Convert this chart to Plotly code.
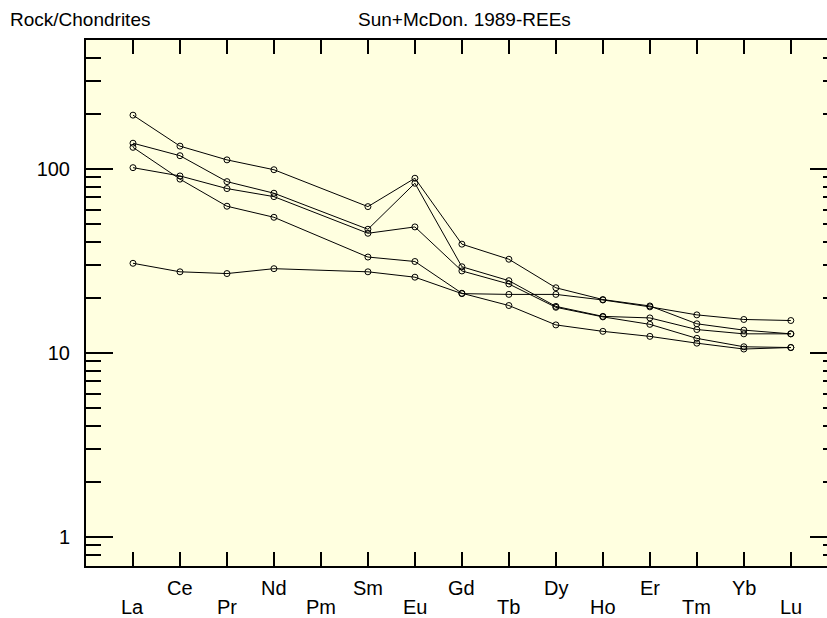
import plotly.graph_objects as go

elements = ["La", "Ce", "Pr", "Nd", "Pm", "Sm", "Eu", "Gd", "Tb", "Dy", "Ho", "Er", "Tm", "Yb", "Lu"]
label_row = [2, 1, 2, 1, 2, 1, 2, 1, 2, 1, 2, 1, 2, 1, 2]

sample_a = [196, 133, 112, 99, None, 62.4, 89, 39, 32.3, 22.6, 19.5, 18.0, 14.4, 13.3, 12.7]
sample_b = [138, 118, 85.3, 73.8, None, 47.0, 83.6, 29.4, 24.7, 17.9, 15.8, 15.5, 13.4, 12.7, 12.7]
sample_c = [101.6, 91.6, 78.2, 70.7, None, 44.7, 48.4, 27.9, 23.7, 17.7, 15.7, 14.3, 12.0, 10.8, 10.7]
sample_d = [131, 88, 62.7, 54.6, None, 33.2, 31.4, 21.1, 18.1, 14.2, 13.1, 12.3, 11.3, 10.5, 10.7]
sample_e = [30.7, 27.6, 27.0, 28.7, None, 27.6, 25.8, 21.0, 20.8, 20.8, 19.4, 17.8, 16.1, 15.2, 15.0]

samples = [sample_a, sample_b, sample_c, sample_d, sample_e]

major_ticks = [1, 10, 100]
major_labels = ["1", "10", "100"]
minor_ticks = [0.7, 0.8, 0.9, 2, 3, 4, 5, 6, 7, 8, 9, 20, 30, 40, 50, 60, 70, 80, 90, 200, 300, 400, 500]

FONT = "Arial, Liberation Sans, sans-serif"

xpos = list(range(len(elements)))

fig = go.Figure()
for s in samples:
    fig.add_trace(go.Scatter(
        x=xpos, y=s, mode="lines+markers", connectgaps=True,
        line=dict(color="black", width=1),
        marker=dict(symbol="circle-open", size=6, color="black", line=dict(width=1, color="black")),
        showlegend=False, hoverinfo="skip",
    ))
fig.add_trace(go.Scatter(x=[], y=[], yaxis="y2", showlegend=False, hoverinfo="skip"))

ylog_range = [-0.158, 2.7007]

annotations = [
    dict(text="Rock/Chondrites", xref="paper", yref="paper", x=-86/741, y=1 + 20/526,
         xanchor="left", yanchor="middle", showarrow=False, xshift=8,
         font=dict(family=FONT, size=19)),
    dict(text="Sun+McDon. 1989-REEs", xref="paper", yref="paper", x=(464 - 86) / 741, y=1 + 20/526,
         xanchor="center", yanchor="middle", showarrow=False,
         font=dict(family=FONT, size=19)),
]
for xi, (el, row) in enumerate(zip(elements, label_row)):
    annotations.append(dict(
        text=el, xref="x", x=xi, yref="paper", y=0, xanchor="center", yanchor="middle",
        yshift=-22 if row == 1 else -41, showarrow=False,
        font=dict(family=FONT, size=20),
    ))

fig.update_layout(
    width=827, height=618,
    margin=dict(l=86, r=0, t=40, b=52),
    paper_bgcolor="white",
    plot_bgcolor="#FFFFE0",
    font=dict(family=FONT, size=18, color="black"),
    xaxis=dict(
        range=[-1, 14.77],
        tickmode="array", tickvals=xpos, showticklabels=False,
        ticks="inside", ticklen=14, tickwidth=2, tickcolor="black",
        showline=True, linewidth=2, linecolor="black", mirror="ticks",
        showgrid=False, zeroline=False,
    ),
    yaxis=dict(
        type="log", range=ylog_range,
        tickmode="array", tickvals=major_ticks, ticktext=major_labels,
        ticks="inside", ticklen=27, tickwidth=2, tickcolor="black",
        minor=dict(tickmode="array", tickvals=minor_ticks, ticks="inside", ticklen=15,
                   tickwidth=2, tickcolor="black", showgrid=False),
        showline=True, linewidth=2, linecolor="black", mirror=False,
        showgrid=False, zeroline=False,
        ticklabelstandoff=10,
        tickfont=dict(family=FONT, size=20),
    ),
    yaxis2=dict(
        type="log", range=ylog_range, overlaying="y", side="right", anchor="x",
        tickmode="array", tickvals=major_ticks, showticklabels=False,
        ticks="inside", ticklen=17, tickwidth=2, tickcolor="black",
        minor=dict(tickmode="array", tickvals=minor_ticks, ticks="inside", ticklen=4,
                   tickwidth=2, tickcolor="black", showgrid=False),
        showline=False, showgrid=False, zeroline=False,
    ),
    annotations=annotations,
)

fig.write_html("out.html")
